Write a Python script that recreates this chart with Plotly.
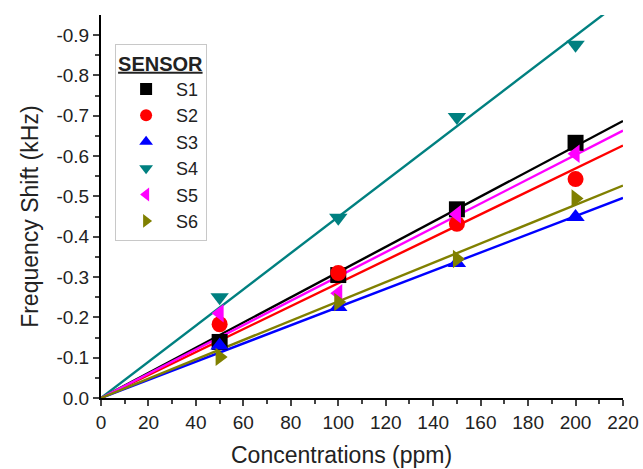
import plotly.graph_objects as go

conc = [50, 100, 150, 200]
sensors = ["S1", "S2", "S3", "S4", "S5", "S6"]
shift = {
    "S1": [-0.139, -0.305, -0.468, -0.633],
    "S2": [-0.183, -0.310, -0.432, -0.543],
    "S3": [-0.130, -0.226, -0.335, -0.449],
    "S4": [-0.250, -0.447, -0.697, -0.876],
    "S5": [-0.210, -0.260, -0.456, -0.606],
    "S6": [-0.102, -0.238, -0.345, -0.495],
}
colors = {"S1": "#000000", "S2": "#ff0000", "S3": "#0000ff",
          "S4": "#008080", "S5": "#ff00ff", "S6": "#808000"}
symbols = {"S1": "square", "S2": "circle", "S3": "triangle-up",
           "S4": "triangle-down", "S5": "triangle-left", "S6": "triangle-right"}

x_ticks = list(range(0, 221, 20))
y_tickvals = [0.0, -0.1, -0.2, -0.3, -0.4, -0.5, -0.6, -0.7, -0.8, -0.9]
y_ticktext = ["0.0", "-0.1", "-0.2", "-0.3", "-0.4", "-0.5", "-0.6", "-0.7", "-0.8", "-0.9"]
x_title = "Concentrations (ppm)"
y_title = "Frequency Shift (kHz)"

fig = go.Figure()
fit_x = [0, 220]
for s in sensors:
    ys = shift[s]
    slope = sum(a * b for a, b in zip(conc, ys)) / sum(a * a for a in conc)
    fig.add_trace(go.Scatter(x=fit_x, y=[slope * v for v in fit_x], mode="lines",
                             line=dict(color=colors[s], width=2.4), showlegend=False,
                             hoverinfo="skip"))
for s in sensors:
    fig.add_trace(go.Scatter(x=conc, y=shift[s], mode="markers", name=s,
                             marker=dict(symbol=symbols[s], color=colors[s], size=16,
                                         line=dict(width=0))))

fig.update_layout(
    width=643, height=469,
    margin=dict(l=101, r=20, t=15, b=71, autoexpand=False),
    paper_bgcolor="white", plot_bgcolor="white",
    font=dict(family="Liberation Sans, Arial, sans-serif", color="#222222", size=18),
    legend=dict(
        title=dict(text="<b><u>SENSOR</u></b>", font=dict(size=20, color="#222222")),
        x=0.027, y=0.925, xanchor="left", yanchor="top",
        bordercolor="#c8c8c8", borderwidth=1, bgcolor="white",
        font=dict(size=18, color="#222222"),
        itemsizing="constant", itemwidth=50, tracegroupgap=0,
    ),
    showlegend=True,
    annotations=[
        dict(text=x_title, xref="paper", yref="paper", x=0.461, y=-0.149,
             xanchor="center", yanchor="middle", showarrow=False,
             font=dict(size=23)),
        dict(text=y_title, xref="paper", yref="paper", x=-0.136, y=0.473,
             xanchor="center", yanchor="middle", showarrow=False, textangle=-90,
             font=dict(size=23)),
    ],
)
fig.update_xaxes(
    range=[0, 220], tickvals=x_ticks, ticks="outside", ticklen=6, tickwidth=1.8,
    showline=True, linecolor="black", linewidth=2, showgrid=False, zeroline=False,
    tickfont=dict(size=19), automargin=False,
    minor=dict(dtick=10, ticks="outside", ticklen=4, tickwidth=1.8, showgrid=False),
)
fig.update_yaxes(
    range=[0, -0.95], tickvals=y_tickvals, ticktext=y_ticktext, ticks="outside",
    ticklen=6, tickwidth=1.8, showline=True, linecolor="black", linewidth=2,
    showgrid=False, zeroline=False, tickfont=dict(size=19), automargin=False,
    minor=dict(tickvals=[-0.05 - 0.1 * i for i in range(9)], ticks="outside",
               ticklen=4, tickwidth=1.8, showgrid=False),
)

fig.write_html("out.html")
